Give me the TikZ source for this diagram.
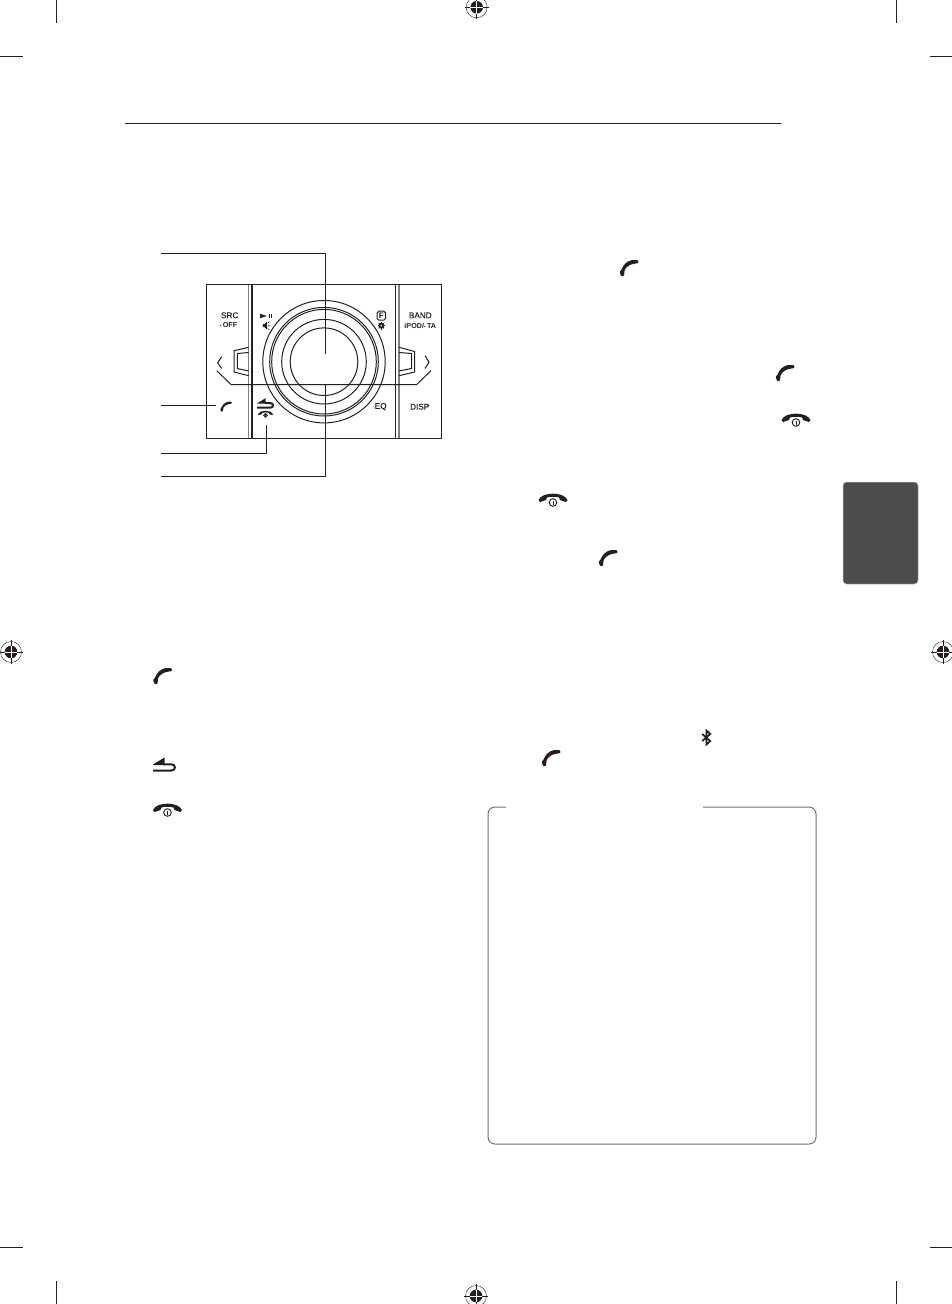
\documentclass[tikz,border=0pt]{standalone}
\usepackage{fontspec}
\setmainfont{Liberation Sans}
\newfontfamily\medfont[FakeBold=0.12]{Liberation Sans}
\definecolor{ink}{HTML}{231F20}
\definecolor{tabgrey}{HTML}{4D4B4C}
\definecolor{boxgrey}{HTML}{707070}
\tikzset{
  x=1pt,y=-1pt,
  every node/.style={inner sep=0pt,outer sep=0pt,text=ink},
  leader/.style={draw=ink,line width=0.9pt},
  crop/.style={draw=ink,line width=0.8pt},
  panel/.style={draw=ink,line width=1pt},
  keylabel/.style={font=\medfont\fontsize{8.2}{9}\selectfont},
  smalllabel/.style={font=\bfseries\fontsize{7.2}{8}\selectfont},
  phone/.pic={
    \fill[ink,rounded corners=0.8pt] (-9.5,3.5) -- (-7.5,2) .. controls (-6,-3) and (-2,-7) .. (3.5,-8) -- (9,-8) -- (9.5,-5) -- (5,-4.2)
      .. controls (1,-3.5) and (-3,-1) .. (-4.5,2.5) -- (-5,8) -- (-8,8) -- cycle;
  },
  hangup/.pic={
    \fill[ink] (-14.5,3) .. controls (-11,-5.5) and (11,-5.5) .. (14.5,3) -- (13,5) -- (7,3) -- (6,0.5)
      .. controls (3,-0.5) and (-3,-0.5) .. (-6,0.5) -- (-7,3) -- (-13,5) -- cycle;
    \draw[ink,line width=0.9pt,fill=white] (0,5.5) circle (3.8);
    \draw[ink,line width=1pt] (0,3.5) -- (0,7.5);
  },
  returnarrow/.pic={
    \fill[ink] (-11.5,-1) -- (0,-8) -- (0,-0.5) -- (-11.5,-0.5) -- cycle;
    \draw[ink,line width=2pt] (-1,-1.2) -- (7,-1.2) .. controls (11.5,-1.2) and (11.5,5) .. (7,5) -- (-11.5,5);
  },
  target/.pic={
    \draw[ink,line width=0.4pt] (0,0) circle (10.5);
    \fill[ink] (0,0) circle (6.3);
    \draw[ink,line width=0.5pt] (-12,0) -- (-6.3,0) (6.3,0) -- (12,0) (0,-12) -- (0,-6.3) (0,6.3) -- (0,12);
    \draw[white,line width=0.5pt] (-6.3,0) -- (6.3,0) (0,-6.3) -- (0,6.3);
  },
  bluetooth/.pic={
    \draw[ink,line width=1.7pt,line join=miter] (-4.3,-3.5) -- (3.8,3.5) -- (0,7) -- (0,-7) -- (3.8,-3.5) -- (-4.3,3.5);
  },
  gearicon/.pic={
    \fill[ink] (0,0) circle (2.9);
    \foreach \a in {0,45,...,315} \draw[ink,line width=1pt] (0,0) -- (\a:3.8);
    \fill[white] (0,0) circle (0.9);
  },
  speakericon/.pic={
    \fill[ink] (-3.2,-1.5) -- (-1.5,-1.5) -- (1,-4) -- (1,4) -- (-1.5,1.5) -- (-3.2,1.5) -- cycle;
    \draw[ink,line width=0.6pt] (2,-3) -- (3.5,-4) (2,0) -- (4,0) (2,3) -- (3.5,4);
  },
  playicon/.pic={
    \fill[ink] (-6,-2.3) -- (1,0) -- (-6,2.3) -- cycle;
    \draw[ink,line width=0.9pt] (3,-2.3) -- (3,2.3) (5.5,-2.3) -- (5.5,2.3);
  },
}
\begin{document}
\begin{tikzpicture}
\useasboundingbox (0,0) rectangle (952,1304);
% crop marks
\draw[crop] (56.3,0) -- (56.3,23);
\draw[crop] (0,56.5) -- (23,56.5);
\draw[crop] (896.3,0) -- (896.3,23);
\draw[crop] (930,56.5) -- (952,56.5);
\draw[crop] (0,1247.3) -- (23,1247.3);
\draw[crop] (56.3,1281) -- (56.3,1304);
\draw[crop] (930,1247.3) -- (952,1247.3);
\draw[crop] (896.3,1281) -- (896.3,1304);
% registration marks
\pic at (476.7,7.3) {target};
\pic at (476,1296) {target};
\pic at (11,652) {target};
\pic at (943,652) {target};
% header rule
\draw[ink,line width=1pt] (125,123.5) -- (781,123.5);
% panel
\draw[panel] (206.7,284.5) rectangle (441.7,438);
\draw[gray,line width=1.2pt] (248.7,284.5) -- (248.7,438);
\draw[ink,line width=1.7pt] (251.7,284.5) -- (251.7,438);
\draw[ink,line width=1.3pt] (395.7,284.5) -- (395.7,438);
\draw[gray,line width=1.2pt] (399,284.5) -- (399,438);
\foreach \r in {61.2,54.3,52.3,42.3,33.8} \draw[panel] (324,361.7) circle (\r);
% side tabs
\draw[panel] (248.7,347.3) -- (234,350.7) -- (234,372) -- (248.7,375.7);
\draw[panel] (248.7,352.5) -- (237.3,353.5) -- (237.3,368.5) -- (248.7,371);
\draw[panel] (399,347.3) -- (414.7,351.5) -- (414.7,372) -- (399,375.7);
\draw[panel] (399,352.5) -- (411.5,353.5) -- (411.5,368.5) -- (399,371);
% band line and chevrons
\draw[panel] (216.7,370.7) -- (231,384.5) -- (416.7,384.5) -- (431,370.7);
\draw[panel] (221.7,356.7) -- (217.7,362.7) -- (221.7,368.5);
\draw[panel] (425,355.5) -- (429,362.3) -- (425,368.5);
% key labels
\node[keylabel] (src) at (229.7,315.3) {SRC};
\node[smalllabel] (off) at (228.5,325) {{\fontsize{5}{5}\selectfont•}\,OFF};
\node[keylabel] (band) at (420.3,315.3) {BAND};
\node[smalllabel] (ipod) at (420.3,326) {iPOD/{\fontsize{5}{5}\selectfont•}\,TA};
\node[keylabel] (eq) at (380.7,406.7) {EQ};
\node[keylabel] (disp) at (419.7,406.7) {DISP};
\pic at (266,316) {playicon};
\pic at (266,325.7) {speakericon};
\node[draw=ink,line width=1pt,rounded corners=1.8pt,minimum width=8.5pt,minimum height=9pt,font=\bfseries\fontsize{8}{8}\selectfont] (fkey) at (381.3,315.7) {F};
\pic at (381.3,325.7) {gearicon};
\pic[scale=0.62] at (226,406.7) {phone};
\pic[scale=0.72] at (265.5,404) {returnarrow};
\pic[scale=0.52] at (265.5,412.5) {hangup};
% leaders
\coordinate (l1) at (161,253.4);
\coordinate (l1c) at (325.3,253.4);
\coordinate (l1e) at (325.3,353.5);
\coordinate (l2) at (161,405);
\coordinate (l2e) at (216,405);
\coordinate (l3) at (161,453);
\coordinate (l3c) at (266.7,453);
\coordinate (l3e) at (266.7,425);
\coordinate (l4) at (161,476);
\coordinate (l4c) at (325.3,476);
\coordinate (l4e) at (325.3,384.5);
\draw[leader] (l1) -- (l1c) -- (l1e);
\draw[leader] (l2) -- (l2e);
\draw[leader] (l3) -- (l3c) -- (l3e);
\draw[leader] (l4) -- (l4c) -- (l4e);
% body icons
\pic at (162.5,676) {phone};
\pic at (629,268) {phone};
\pic at (785,373) {phone};
\pic at (608,558) {phone};
\pic at (551,758) {phone};
\pic at (164.5,765.5) {returnarrow};
\pic at (167.5,807) {hangup};
\pic at (796,417) {hangup};
\pic at (553,497) {hangup};
\pic at (706.5,737.5) {bluetooth};
% tab
\node[fill=tabgrey,draw=lightgray,line width=0.5pt,rounded corners=3.5pt,minimum width=75pt,minimum height=102pt] (tab) at (880.5,533) {};
% note box
\draw[boxgrey,line width=1pt,rounded corners=7pt] (506,807) -| (488,1144) -| (816,807) -- (703,807);
\end{tikzpicture}
\end{document}
